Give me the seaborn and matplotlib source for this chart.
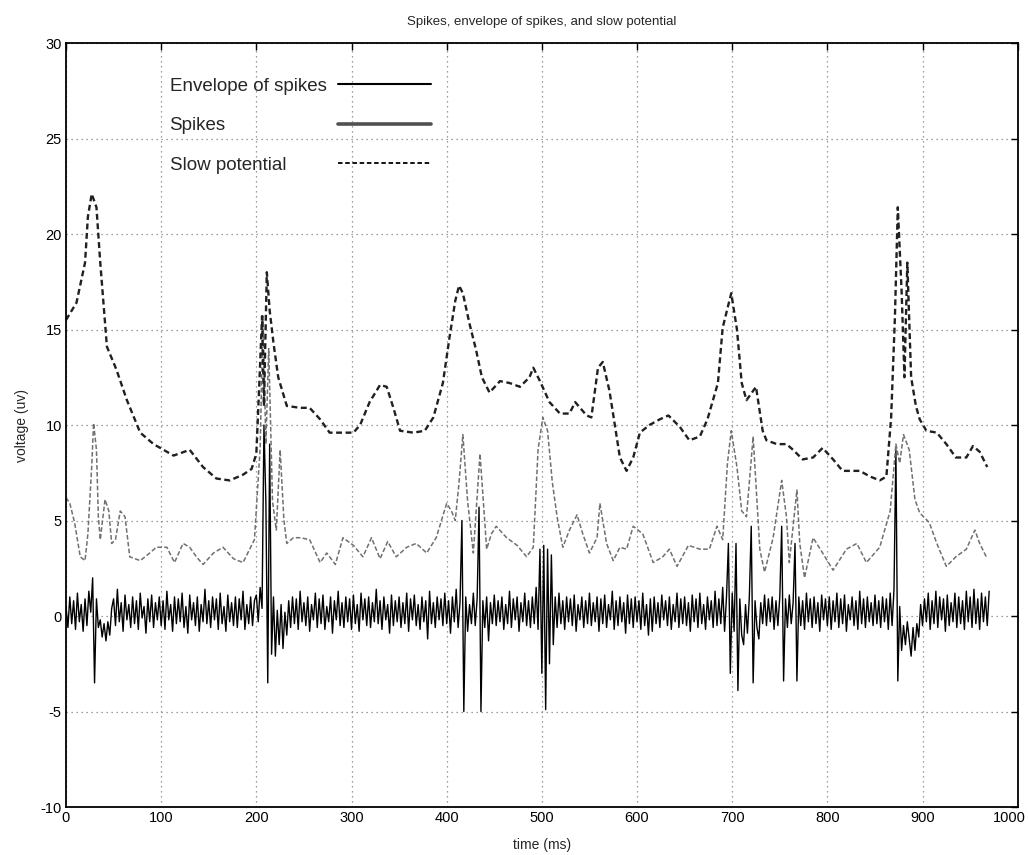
import matplotlib
matplotlib.use("Agg")
import matplotlib.pyplot as plt
import matplotlib.transforms as mtransforms
from matplotlib.lines import Line2D
import numpy as np
import pandas as pd
import seaborn as sns

# ---------------- data ----------------
slow_t = [0, 11, 20, 23, 27, 32, 36, 43, 53, 64, 78, 92, 113, 130, 144, 158, 172, 186, 195, 200,
          203, 206, 208, 211, 214, 218, 223, 232, 246, 256, 267, 277, 291, 302, 309, 319, 330, 337,
          344, 351, 365, 377, 386, 396, 403, 409, 413, 417, 424, 431, 437, 445, 456, 466, 477, 487,
          491, 498, 508, 519, 529, 535, 547, 552, 559, 564, 571, 577, 582, 589, 596, 603, 613, 624,
          633, 645, 655, 666, 674, 685, 690, 699, 705, 710, 715, 725, 732, 736, 747, 757, 764, 774,
          785, 795, 806, 816, 834, 845, 855, 862, 867, 871, 874, 878, 881, 884, 888, 893, 897, 904,
          915, 925, 935, 946, 953, 960, 968]
slow_v = [15.5, 16.4, 18.5, 20.9, 22.1, 21.4, 18.5, 14.1, 12.9, 11.3, 9.6, 9.0, 8.4, 8.7, 7.8, 7.2,
          7.1, 7.4, 7.7, 8.5, 12.0, 15.7, 11.0, 18.0, 16.0, 14.3, 12.5, 11.0, 10.9, 10.9, 10.3, 9.6,
          9.6, 9.6, 10.0, 11.2, 12.1, 12.0, 10.9, 9.7, 9.6, 9.7, 10.4, 12.2, 14.6, 16.5, 17.3, 16.9,
          15.3, 13.9, 12.5, 11.7, 12.3, 12.2, 12.0, 12.5, 13.0, 12.3, 11.2, 10.6, 10.6, 11.2, 10.5,
          10.4, 13.0, 13.3, 11.8, 9.9, 8.3, 7.6, 8.3, 9.6, 10.0, 10.3, 10.5, 9.9, 9.2, 9.4, 10.3,
          12.2, 15.1, 16.9, 15.0, 12.2, 11.3, 12.0, 9.7, 9.2, 9.0, 9.0, 8.7, 8.2, 8.3, 8.8, 8.2, 7.6,
          7.6, 7.3, 7.1, 7.3, 10.4, 15.7, 21.4, 17.0, 12.5, 18.5, 12.5, 11.0, 10.3, 9.7, 9.6, 9.0,
          8.3, 8.3, 8.9, 8.6, 7.8]

env_t = [0, 4, 9, 15, 20, 23, 27, 29, 32, 34, 36, 41, 45, 48, 52, 57, 62, 67, 78, 88, 95, 106,
         114, 123, 130, 137, 144, 155, 165, 176, 186, 193, 198, 204, 207, 210, 213, 217, 221, 225,
         229, 232, 239, 246, 256, 267, 274, 283, 291, 302, 312, 321, 330, 338, 347, 358, 368, 379,
         389, 400, 405, 409, 413, 417, 422, 428, 435, 442, 447, 452, 463, 474, 484, 491, 496, 501,
         506, 511, 516, 522, 529, 537, 543, 550, 558, 561, 568, 575, 582, 589, 596, 606, 617, 627,
         634, 642, 654, 666, 676, 684, 690, 695, 699, 705, 710, 715, 722, 729, 734, 743, 752, 757,
         760, 768, 771, 776, 785, 795, 806, 820, 831, 841, 855, 866, 872, 876, 880, 886, 892, 897,
         907, 915, 925, 935, 946, 955, 960, 967]
env_v = [6.2, 5.9, 4.9, 3.1, 2.9, 4.3, 7.8, 10.1, 8.7, 5.2, 4.0, 6.1, 5.5, 3.8, 4.0, 5.5, 5.2, 3.1,
         2.9, 3.3, 3.6, 3.6, 2.8, 3.8, 3.6, 3.1, 2.7, 3.3, 3.6, 3.0, 2.8, 3.5, 4.0, 8.8, 15.7, 9.0,
         14.0, 6.0, 4.5, 8.7, 5.0, 3.8, 4.1, 4.1, 4.0, 2.8, 3.3, 2.7, 4.1, 3.7, 3.1, 4.1, 3.0, 3.9,
         3.1, 3.6, 3.8, 3.3, 4.1, 5.9, 5.5, 5.0, 7.0, 9.5, 6.0, 3.3, 8.5, 3.5, 4.3, 4.7, 4.1, 3.7,
         3.1, 3.6, 8.7, 10.4, 9.7, 7.0, 5.2, 3.6, 4.5, 5.3, 4.3, 3.3, 4.1, 5.9, 3.8, 2.9, 3.6, 3.5,
         4.7, 4.3, 2.8, 3.1, 3.5, 2.6, 3.7, 3.5, 3.5, 4.7, 4.0, 8.0, 9.7, 7.8, 5.5, 5.2, 9.4, 3.5,
         2.3, 4.1, 7.1, 5.2, 2.8, 6.6, 3.8, 2.0, 4.1, 3.3, 2.4, 3.5, 3.8, 2.8, 3.6, 5.5, 9.0, 8.0,
         9.5, 8.7, 6.1, 5.4, 4.9, 3.8, 2.6, 3.1, 3.5, 4.5, 3.8, 3.1]

# spikes: one sample every 2 ms, t = 0 .. 970
spike_v = [
    0.5, -0.6, 1.0, -0.4, 0.8, -0.7, 1.2, -0.3, 0.6, -0.8, 0.9, -0.5, 1.3, 0.2, 2.0, -3.5, 0.9, -0.6, -0.2, -1.1, -0.4, -1.3, -0.3, -1.0, 0.4,
    0.9, -0.5, 1.4, -0.3, 0.7, -0.8, 1.1, -0.2, 0.6, -0.6, 1.0, -0.4, 0.8, -0.7, 1.2, -0.1, 0.5, -0.9, 0.9, -0.3, 1.1, -0.6, 0.7, -0.2, 1.0,
    -0.5, 0.8, -0.7, 1.3, -0.2, 0.6, -0.8, 1.0, -0.4, 0.9, -0.3, 1.2, -0.6, 0.5, -0.9, 1.1, -0.2, 0.7, -0.5, 1.0, -0.8, 0.6, -0.3, 1.4, -0.4,
    0.8, -0.6, 1.0, -0.2, 0.9, -0.7, 1.2, -0.4, 0.5, -0.8, 1.1, -0.3, 0.7, -0.5, 1.0, -0.6, 0.9, -0.2, 1.3, -0.7, 0.6, -0.4, 1.0, -0.5, 0.8,
    1.1, -0.3, 1.5, 0.4, 10.0, 6.0, -3.5, 9.0, -2.0, 1.0, -2.1, 0.3, -1.5, 0.6, -1.7, 0.2, -1.0, 0.8, -0.6, 1.0, -0.4, 0.9, -0.7, 1.3, -0.3,
    0.7, -0.5, 1.0, -0.8, 0.6, -0.2, 1.2, -0.6, 0.9, -0.4, 1.1, -0.7, 0.5, -0.3, 1.0, -0.9, 0.8, -0.2, 1.3, -0.5, 0.7, -0.6, 1.0, -0.3, 0.9,
    -0.7, 1.1, -0.4, 0.6, -0.8, 1.2, -0.2, 0.9, -0.5, 1.0, -0.6, 0.7, -0.3, 1.4, -0.4, 0.8, -0.7, 1.0, -0.2, 0.6, -0.9, 1.1, -0.5, 0.8, -0.3,
    1.0, -0.6, 0.7, -0.4, 1.2, -0.8, 0.9, -0.2, 1.1, -0.5, 0.6, -0.7, 1.0, -0.3, 0.8, -1.2, 1.3, -0.4, 0.7, -0.6, 1.0, -0.2, 0.9, -0.5, 1.2,
    -0.4, 0.8, -0.9, 1.0, -0.3, 1.4, -0.6, 0.7, 5.0, -5.0, 1.0, -0.8, 0.6, -0.4, 1.2, -0.5, 0.9, 5.7, -5.0, 0.8, -0.6, 1.0, -1.3, 0.7, -0.4,
    1.1, -0.5, 0.8, -0.3, 1.0, -0.7, 0.6, -0.4, 1.3, -0.6, 0.9, -0.2, 1.0, -0.8, 0.7, -0.3, 1.2, -0.5, 0.8, -0.6, 1.0, -0.4, 1.5, -0.7, 3.5,
    -3.0, 3.7, -4.9, 3.5, -2.5, 3.2, -1.5, 1.0, -0.6, 1.2, -0.4, 0.8, -0.7, 1.0, -0.3, 0.9, -0.5, 1.1, -0.8, 0.6, -0.2, 1.0, -0.6, 0.8, -0.4,
    1.2, -0.5, 0.7, -0.3, 1.0, -0.8, 0.9, -0.4, 1.1, -0.6, 0.6, -0.2, 1.3, -0.7, 0.8, -0.5, 1.0, -0.3, 0.7, -0.9, 1.1, -0.4, 0.9, -0.6, 1.0,
    -0.3, 0.8, -0.7, 1.2, -0.5, 0.6, -1.0, 0.9, -0.8, 1.0, -0.4, 0.7, -0.6, 1.1, -0.2, 0.8, -0.5, 1.0, -0.7, 0.6, -0.3, 1.2, -0.6, 0.9, -0.4,
    1.0, -0.5, 0.7, -0.8, 1.1, -0.3, 0.9, -0.6, 1.2, -0.4, 0.6, -0.7, 1.0, -0.2, 0.8, -0.6, 1.3, -0.5, 0.9, -0.4, 1.5, -0.8, 1.0, 3.8, -3.0,
    1.2, -0.8, 3.8, -3.9, 0.9, -1.0, -1.5, 0.6, -0.9, 1.0, 4.7, -3.5, 0.8, -0.6, -1.2, 0.7, -0.4, 1.1, -0.5, 0.9, -0.3, 1.0, -0.7, 0.8, -0.5,
    1.0, 4.7, -3.4, 0.9, -0.6, 1.1, -0.4, 0.7, 3.8, -3.4, 1.0, -0.5, 0.8, -0.7, 1.2, -0.3, 0.9, -0.6, 1.0, -0.4, 0.7, -0.8, 1.1, -0.2, 0.9,
    -0.5, 1.0, -0.7, 0.8, -0.3, 1.2, -0.6, 0.9, -0.4, 1.1, -0.8, 0.6, -0.2, 1.0, -0.5, 0.8, -0.7, 1.3, -0.4, 0.9, -0.6, 1.0, -0.3, 0.7, -0.5,
    1.1, -0.4, 0.8, -0.6, 1.0, -0.3, 0.9, -0.7, 1.2, -0.5, 1.4, 8.7, -3.4, 0.5, -1.8, -0.5, -1.5, -0.3, -1.2, -2.1, -0.6, -1.8, -0.4, -1.1, 0.6,
    -0.5, 0.9, -0.3, 1.2, -0.7, 0.8, -0.4, 1.3, -0.6, 1.0, -0.2, 0.9, -0.8, 1.1, -0.5, 0.7, -0.3, 1.2, -0.6, 1.0, -0.4, 0.8, -0.7, 1.3, -0.3,
    1.0, -0.6, 1.4, -0.4, 0.9, -0.7, 1.2, -0.3, 1.0, -0.5, 1.3,
]
spike_t = list(range(0, 2 * len(spike_v), 2))

x_ticks = [0, 100, 200, 300, 400, 500, 600, 700, 800, 900, 1000]
y_ticks = [-10, -5, 0, 5, 10, 15, 20, 25, 30]

legend_labels = ["Envelope of spikes", "Spikes", "Slow potential"]
title = "Spikes, envelope of spikes, and slow potential"

# ---------------- plot ----------------
sns.set_theme(style="white")
plt.rcParams["font.family"] = ["Liberation Sans", "DejaVu Sans"]
plt.rcParams["axes.unicode_minus"] = False

fig = plt.figure(figsize=(10.28, 8.55), dpi=100)
ax = fig.add_axes([0.0642, 0.0561, 0.9258, 0.8936])

spikes_df = pd.DataFrame({"t": spike_t, "v": spike_v})
slow_df = pd.DataFrame({"t": slow_t, "v": slow_v})
env_df = pd.DataFrame({"t": env_t, "v": env_v})

sns.lineplot(data=spikes_df, x="t", y="v", ax=ax, color="black", lw=1.0,
             estimator=None, sort=False)
sns.lineplot(data=env_df, x="t", y="v", ax=ax, color="#707070", lw=1.1,
             estimator=None, sort=False, linestyle=(0, (3, 1.5)))
sns.lineplot(data=slow_df, x="t", y="v", ax=ax, color="#202020", lw=1.7,
             estimator=None, sort=False, linestyle=(0, (2.5, 1.5)))

ax.set_xlim(0, 1000)
ax.set_ylim(-10, 30)
ax.set_xticks(x_ticks)
ax.set_yticks(y_ticks)
ax.grid(True, linestyle=(0, (1, 3)), color="#808080", lw=0.9)
ax.tick_params(direction="in", top=True, right=True, length=5, width=1,
               labelsize=10.5, colors="black", pad=3)
for s in ax.spines.values():
    s.set_color("black")
    s.set_linewidth(1.3)

# keep the last x tick label inside the figure
last_lbl = ax.get_xticklabels()[-1]
last_lbl.set_transform(last_lbl.get_transform() +
                       mtransforms.ScaledTranslation(-0.08, 0, fig.dpi_scale_trans))

ax.set_title(title, fontsize=9.5, pad=13)
ax.set_xlabel("time (ms)", fontsize=10, labelpad=9)
ax.set_ylabel("voltage (uv)", fontsize=10, labelpad=8)

handles = [
    Line2D([], [], color="black", lw=1.5),
    Line2D([], [], color="#505050", lw=2.6),
    Line2D([], [], color="black", lw=1.3, linestyle=(0, (2.5, 1.5))),
]
leg = ax.legend(handles, legend_labels, loc="upper left",
                bbox_to_anchor=(0.095, 0.972), frameon=False, markerfirst=False,
                fontsize=13.5, handlelength=5.0, handletextpad=0.6,
                labelspacing=1.2, borderpad=0.2)

# left-align the legend texts (MATLAB style): pad shorter rows
fig.canvas.draw()
renderer = fig.canvas.get_renderer()
texts = leg.get_texts()
widths = [t.get_window_extent(renderer).width for t in texts]
maxw = max(widths)
col = leg._legend_handle_box.get_children()[0]
for row, w in zip(col.get_children(), widths):
    row.sep = row.sep + (maxw - w) * 72.0 / fig.dpi

fig.savefig("out.png", dpi=100)
